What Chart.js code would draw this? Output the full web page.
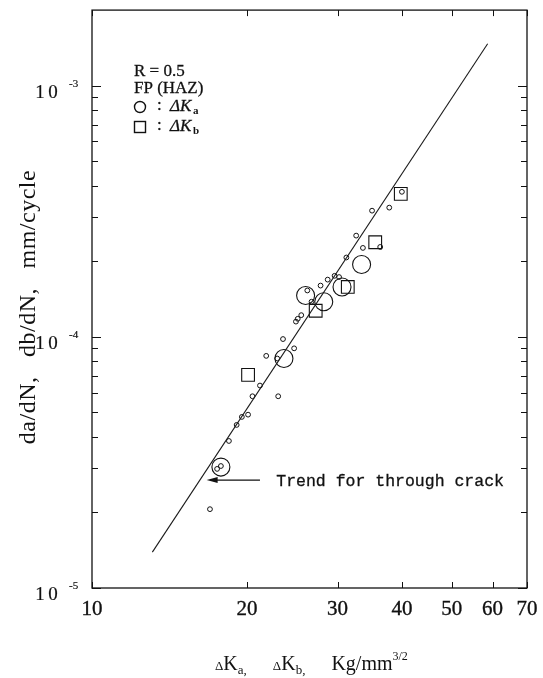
<!DOCTYPE html>
<html>
<head>
<meta charset="utf-8">
<script src="https://cdn.jsdelivr.net/npm/chart.js@4.4.0/dist/chart.umd.min.js"></script>
<style>
  html, body { margin: 0; padding: 0; background: #fff; }
  #wrap { width: 543px; height: 678px; }
</style>
</head>
<body>
<div id="wrap"><canvas id="grafico" width="543" height="678"></canvas></div>
<script>
// eixo x: delta K (Kg/mm^3/2), eixo y: da/dN, db/dN (mm/cycle)
const xTicks = [10, 20, 30, 40, 50, 60, 70];
const yDecades = [1e-5, 1e-4, 1e-3];
const yDecadeExp = ['-5', '-4', '-3'];
const yMinor = [2e-5, 3e-5, 4e-5, 5e-5, 6e-5, 7e-5, 8e-5, 9e-5,
                2e-4, 3e-4, 4e-4, 5e-4, 6e-4, 7e-4, 8e-4, 9e-4];

// pontos pequenos
const smallK = [40.0, 35.0, 37.8, 32.6, 36.3, 33.6, 31.2, 29.6, 30.2, 28.7, 27.8, 26.2,
                26.7, 25.5, 25.1, 24.9, 23.5, 24.7, 21.8, 22.9, 21.2, 20.5, 23.0, 20.1,
                19.55, 19.1, 18.45, 17.5, 17.8, 16.95];
const smallRate = [3.78e-4, 3.18e-4, 3.27e-4, 2.53e-4, 2.28e-4, 2.26e-4, 2.07e-4, 1.75e-4,
                   1.73e-4, 1.69e-4, 1.60e-4, 1.53e-4, 1.38e-4, 1.22e-4, 1.18e-4, 1.15e-4,
                   0.98e-4, 0.90e-4, 0.84e-4, 0.82e-4, 0.64e-4, 0.58e-4, 0.58e-4, 0.49e-4,
                   0.48e-4, 0.446e-4, 0.385e-4, 0.298e-4, 0.306e-4, 0.206e-4];

// circulos grandes (delta Ka)
const circK = [33.4, 30.6, 26.0, 28.2, 23.6, 17.8];
const circRate = [1.94e-4, 1.58e-4, 1.46e-4, 1.38e-4, 0.82e-4, 0.303e-4];

// quadrados (delta Kb)
const sqK = [39.8, 35.5, 31.4, 27.2, 20.1];
const sqRate = [3.71e-4, 2.38e-4, 1.58e-4, 1.27e-4, 0.706e-4];

// linha de tendencia (through crack)
const trendK = [13.1, 58.7];
const trendRate = [1.39e-5, 1.47e-3];

// seta da anotacao
const arrowTipK = 16.7, arrowTailK = 21.2, arrowRate = 2.69e-5;
const noteK = 22.8;

const pts = (xs, ys) => xs.map((x, i) => ({ x: x, y: ys[i] }));

const desenho = {
  id: 'desenho',
  afterDraw(chart) {
    const ctx = chart.ctx;
    const a = chart.chartArea;
    const sx = chart.scales.x, sy = chart.scales.y;
    ctx.save();
    ctx.strokeStyle = '#111';
    ctx.fillStyle = '#111';

    // texto um pouco mais grosso, como no original impresso
    const txt = (s, x, y, w) => {
      ctx.fillText(s, x, y);
      ctx.lineWidth = w || 0.3;
      ctx.strokeText(s, x, y);
    };

    // moldura
    ctx.lineWidth = 1.3;
    ctx.strokeRect(a.left, a.top, a.right - a.left, a.bottom - a.top);

    // ticks x (para dentro, em cima e em baixo)
    ctx.lineWidth = 1;
    ctx.beginPath();
    xTicks.forEach(v => {
      const px = Math.round(sx.getPixelForValue(v)) + 0.5;
      ctx.moveTo(px, a.bottom); ctx.lineTo(px, a.bottom - 6);
      ctx.moveTo(px, a.top); ctx.lineTo(px, a.top + 6);
    });
    // ticks y
    const yTick = (v, len) => {
      const py = Math.round(sy.getPixelForValue(v)) + 0.5;
      ctx.moveTo(a.left, py); ctx.lineTo(a.left + len, py);
      ctx.moveTo(a.right, py); ctx.lineTo(a.right - len, py);
    };
    yMinor.forEach(v => yTick(v, 6));
    yDecades.forEach(v => yTick(v, 9));
    ctx.stroke();

    // rotulos x
    ctx.font = '21px "Liberation Serif"';
    ctx.textAlign = 'center';
    ctx.textBaseline = 'middle';
    xTicks.forEach(v => {
      txt(String(v), sx.getPixelForValue(v), a.bottom + 21, 0.35);
    });

    // rotulos y: 1 0 com expoente
    yDecades.forEach((v, i) => {
      const py = sy.getPixelForValue(v);
      ctx.font = '19px "Liberation Serif"';
      ctx.textAlign = 'center';
      txt('1', 40, py + 7, 0.2);
      txt('0', 53, py + 7, 0.2);
      ctx.font = '11px "Liberation Serif"';
      ctx.textAlign = 'left';
      txt(yDecadeExp[i], 69, py - 2, 0.2);
    });

    // titulo y
    ctx.save();
    ctx.translate(29, 307);
    ctx.rotate(-Math.PI / 2);
    ctx.font = '24px "Liberation Serif"';
    ctx.letterSpacing = '0.5px';
    ctx.textAlign = 'center';
    ctx.fillText('da/dN,   db/dN,   mm/cycle', 0, 0);
    ctx.restore();

    // titulo x
    ctx.textAlign = 'left';
    ctx.textBaseline = 'alphabetic';
    let x = 215;
    const base = 670;
    const part = (s, size, dy) => {
      ctx.font = size + 'px "Liberation Serif"';
      ctx.fillText(s, x, base + dy);
      x += ctx.measureText(s).width;
    };
    part('\u0394', 13, 0); part('K', 20, 0); part('a,', 13, 4);
    x += 26;
    part('\u0394', 13, 0); part('K', 20, 0); part('b,', 13, 4);
    x += 26;
    part('Kg/mm', 20, 0); part('3/2', 12, -10);

    // bloco de legenda
    ctx.font = '17px "Liberation Serif"';
    ctx.textBaseline = 'middle';
    txt('R = 0.5', 134, 72);
    txt('FP (HAZ)', 134, 89);
    ctx.lineWidth = 1.4;
    ctx.beginPath();
    ctx.arc(140, 107, 5.5, 0, Math.PI * 2);
    ctx.stroke();
    ctx.strokeRect(134.5, 121.5, 11, 11);
    txt(':', 157, 106);
    txt(':', 157, 126);
    ctx.font = 'italic 17px "Liberation Serif"';
    txt('\u0394K', 170, 107);
    txt('\u0394K', 170, 127);
    ctx.font = 'bold 11px "Liberation Serif"';
    ctx.fillText('a', 193, 111);
    ctx.fillText('b', 193, 131);

    // seta e texto da tendencia
    const ay = sy.getPixelForValue(arrowRate);
    const tip = sx.getPixelForValue(arrowTipK);
    const tail = sx.getPixelForValue(arrowTailK);
    ctx.lineWidth = 1.3;
    ctx.beginPath();
    ctx.moveTo(tail, ay); ctx.lineTo(tip + 6, ay);
    ctx.stroke();
    ctx.beginPath();
    ctx.moveTo(tip, ay); ctx.lineTo(tip + 11, ay - 3); ctx.lineTo(tip + 11, ay + 3);
    ctx.closePath();
    ctx.fill();
    ctx.font = '16.5px "Liberation Mono"';
    ctx.textBaseline = 'middle';
    txt('Trend for through crack', sx.getPixelForValue(noteK), ay + 2);

    ctx.restore();
  }
};

const ctx = document.getElementById('grafico').getContext('2d');

const grafico = new Chart(ctx, {
  type: 'scatter',
  data: {
    datasets: [
      {
        data: pts(trendK, trendRate),
        showLine: true,
        pointRadius: 0,
        borderColor: '#1a1a1a',
        borderWidth: 1.1
      },
      {
        data: pts(smallK, smallRate),
        pointStyle: 'circle',
        pointRadius: 2.4,
        borderWidth: 1,
        borderColor: '#111',
        backgroundColor: 'rgba(0,0,0,0)'
      },
      {
        data: pts(circK, circRate),
        pointStyle: 'circle',
        pointRadius: 9,
        borderWidth: 1.1,
        borderColor: '#111',
        backgroundColor: 'rgba(0,0,0,0)'
      },
      {
        data: pts(sqK, sqRate),
        pointStyle: 'rect',
        pointRadius: 9,
        borderWidth: 1.1,
        borderColor: '#111',
        backgroundColor: 'rgba(0,0,0,0)'
      }
    ]
  },
  options: {
    responsive: false,
    animation: false,
    layout: { padding: { left: 92, right: 16, top: 6, bottom: 90 } },
    plugins: { legend: { display: false }, tooltip: { enabled: false } },
    scales: {
      x: { type: 'logarithmic', min: 10, max: 70, display: false },
      y: { type: 'logarithmic', min: 1e-5, max: 2e-3, display: false }
    }
  },
  plugins: [desenho]
});
</script>
</body>
</html>
